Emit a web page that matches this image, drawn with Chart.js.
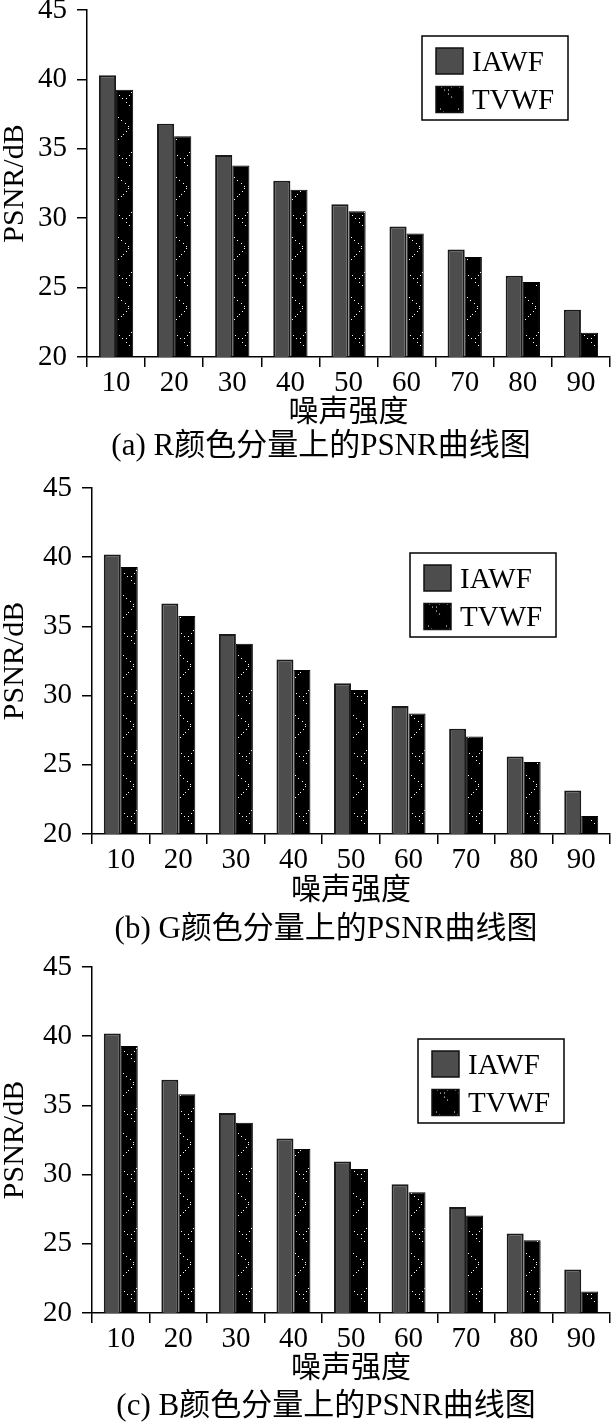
<!DOCTYPE html>
<html>
<head>
<meta charset="utf-8">
<script src="https://cdn.jsdelivr.net/npm/chart.js@4.4.1/dist/chart.umd.min.js"></script>
<style>
  html, body { margin: 0; padding: 0; background: #fff; }
  canvas { display: block; }
</style>
</head>
<body>
<canvas id="chartR" width="611" height="470"></canvas>
<canvas id="chartG" width="611" height="478"></canvas>
<canvas id="chartB" width="611" height="480"></canvas>
<script>
// noise levels on the x axis
const noiseLevels = ['10', '20', '30', '40', '50', '60', '70', '80', '90'];
const seriesNames = ['IAWF', 'TVWF'];

// PSNR (dB)
const iawfR = [40.3, 36.8, 34.55, 32.7, 31.0, 29.4, 27.75, 25.85, 23.4];
const tvwfR = [39.25, 35.9, 33.8, 32.05, 30.5, 28.9, 27.2, 25.4, 21.75];
const iawfG = [40.2, 36.65, 34.45, 32.6, 30.9, 29.25, 27.6, 25.6, 23.15];
const tvwfG = [39.3, 35.75, 33.75, 31.85, 30.4, 28.7, 27.05, 25.2, 21.3];
const iawfB = [40.2, 36.85, 34.45, 32.6, 30.95, 29.3, 27.65, 25.75, 23.15];
const tvwfB = [39.3, 35.8, 33.75, 31.85, 30.4, 28.72, 27.05, 25.25, 21.55];

const yMin = 20;
const yMax = 45;
const yStep = 5;

const yTitle = 'PSNR/dB';
const xTitle = '噪声强度';
const captions = ['(a) R颜色分量上的PSNR曲线图', '(b) G颜色分量上的PSNR曲线图', '(c) B颜色分量上的PSNR曲线图'];

const SERIF = "'Liberation Serif', 'Noto Sans CJK SC', serif";
Chart.defaults.color = '#000';
Chart.defaults.font.family = SERIF;

// black fill with white dotted chevrons, like the printed TVWF bars
function makeTile() {
  const tile = document.createElement('canvas');
  tile.width = 18;
  tile.height = 60;
  const c = tile.getContext('2d');
  c.fillStyle = '#000';
  c.fillRect(0, 0, 18, 60);
  c.fillStyle = '#fff';
  const dotted = (x0, y0, x1, y1) => {
    const n = Math.round(Math.max(Math.abs(x1 - x0), Math.abs(y1 - y0)) / 3);
    for (let i = 0; i <= n; i++) {
      const t = i / n;
      c.fillRect(Math.round(x0 + (x1 - x0) * t), Math.round(y0 + (y1 - y0) * t), 1, 1);
    }
  };
  dotted(3, 3, 13, 13);
  dotted(15, 0, 10, 6);
  dotted(2, 25, 12, 34);
  dotted(12, 36, 2, 47);
  return tile;
}
const tile = makeTile();

function hatch(ctx2d, x, y) {
  const p = ctx2d.createPattern(tile, 'repeat');
  p.setTransform(new DOMMatrix().translate(Math.round(x), y));
  return p;
}

// legend box + caption drawn on top of the chart
const figureText = {
  id: 'figureText',
  afterDraw(chart, args, opts) {
    const ctx = chart.ctx;
    ctx.save();
    const lx = opts.legendX, ly = opts.legendY;
    ctx.fillStyle = '#fff';
    ctx.fillRect(lx, ly, 146, 84);
    ctx.lineWidth = 1.5;
    ctx.strokeStyle = '#000';
    ctx.strokeRect(lx, ly, 146, 84);
    chart.data.datasets.forEach((ds, i) => {
      const sx = lx + 14, sy = ly + 12 + i * 38.5;
      ctx.fillStyle = i === 0 ? '#4d4d4d' : hatch(ctx, sx + 2, sy - 3);
      ctx.fillRect(sx, sy, 27, 26);
      ctx.lineWidth = 1.5;
      ctx.strokeStyle = '#111';
      ctx.strokeRect(sx, sy, 27, 26);
      ctx.fillStyle = '#000';
      ctx.font = '29px ' + SERIF;
      ctx.textAlign = 'left';
      ctx.textBaseline = 'middle';
      ctx.fillText(ds.label, lx + 50, ly + 27 + i * 38.5);
    });
    ctx.font = '31px ' + SERIF;
    ctx.textAlign = 'center';
    ctx.textBaseline = 'middle';
    ctx.fillText(opts.caption, opts.captionX, opts.captionY);
    ctx.restore();
  }
};

function renderPanel(canvas, iawf, tvwf, caption, cfg) {
  const ctx2d = canvas.getContext('2d');
  const data = {
    labels: noiseLevels,
    datasets: [
      {
        label: seriesNames[0],
        data: iawf,
        backgroundColor: '#4d4d4d',
        borderColor: '#1a1a1a',
        borderWidth: 2,
      },
      {
        label: seriesNames[1],
        data: tvwf,
        backgroundColor: (c) => {
          if (c.dataIndex === undefined || !c.chart.scales.x) return '#000';
          return hatch(ctx2d, c.chart.scales.x.getPixelForValue(c.dataIndex), cfg.hatchY);
        },
        borderColor: '#000',
        borderWidth: 1,
      },
    ],
  };

  const options = {
    responsive: false,
    animation: false,
    events: [],
    devicePixelRatio: 1,
    categoryPercentage: 0.59,
    barPercentage: 1.0,
    layout: {
      padding: { top: cfg.top, bottom: cfg.bottom, left: 0, right: 1 },
    },
    plugins: {
      legend: { display: false },
      tooltip: { enabled: false },
      figureText: {
        legendX: cfg.legendX,
        legendY: cfg.legendY,
        caption: caption,
        captionX: cfg.captionX,
        captionY: cfg.captionY,
      },
    },
    scales: {
      x: {
        grid: {
          offset: true,
          drawOnChartArea: false,
          tickLength: 10,
          color: '#000',
          lineWidth: 1.5,
        },
        border: { display: true, color: '#000', width: 1.5 },
        ticks: {
          font: { size: 29, lineHeight: 1.1 },
          padding: 0,
          maxRotation: 0,
          autoSkip: false,
        },
        title: {
          display: true,
          text: xTitle,
          font: { size: 30, lineHeight: 1 },
          padding: 0,
        },
        afterFit: (scale) => {
          scale.height = cfg.xHeight;
          scale.paddingLeft = 0;
          scale.paddingRight = 0;
        },
      },
      y: {
        min: yMin,
        max: yMax,
        grid: {
          drawOnChartArea: false,
          tickLength: 10,
          color: '#000',
          lineWidth: 1.5,
        },
        border: { display: true, color: '#000', width: 1.5 },
        ticks: {
          stepSize: yStep,
          font: { size: 29 },
          padding: 10,
        },
        title: {
          display: true,
          text: yTitle,
          font: { size: 30, lineHeight: 1 },
          padding: 0,
        },
        afterFit: (scale) => {
          scale.width = cfg.axisLeft;
          scale.paddingTop = 0;
          scale.paddingBottom = 0;
        },
      },
    },
  };

  return new Chart(canvas, {
    type: 'bar',
    data: data,
    options: options,
    plugins: [figureText],
  });
}

renderPanel(document.getElementById('chartR'), iawfR, tvwfR, captions[0], {
  axisLeft: 87, top: 10, xHeight: 71, bottom: 42, hatchY: 32,
  legendX: 422, legendY: 36, captionX: 321, captionY: 447,
});
renderPanel(document.getElementById('chartG'), iawfG, tvwfG, captions[1], {
  axisLeft: 92, top: 18, xHeight: 72, bottom: 42, hatchY: 40,
  legendX: 410, legendY: 83, captionX: 326, captionY: 460,
});
renderPanel(document.getElementById('chartB'), iawfB, tvwfB, captions[2], {
  axisLeft: 92, top: 19, xHeight: 71, bottom: 44, hatchY: 40,
  legendX: 418, legendY: 91, captionX: 326, captionY: 459,
});
</script>
</body>
</html>
